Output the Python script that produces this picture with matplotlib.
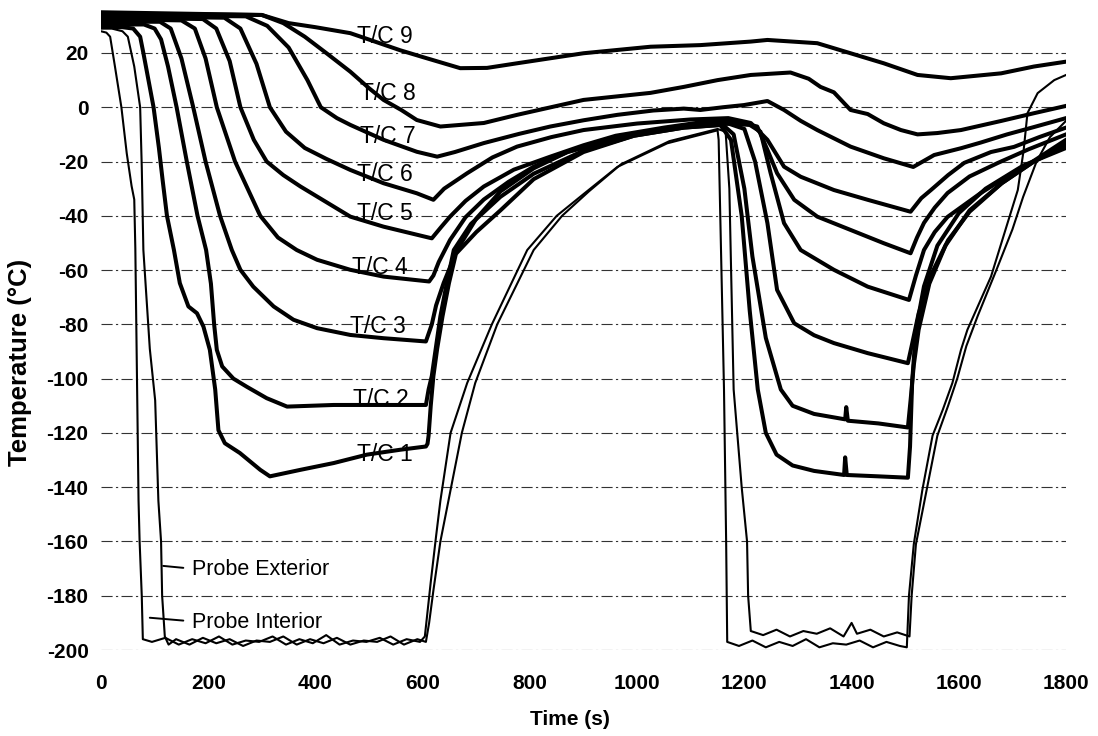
import matplotlib
matplotlib.use("Agg")
import matplotlib.pyplot as plt

plt.rcParams['font.family'] = ['Liberation Sans', 'DejaVu Sans']

# ---- thermocouple traces: time (s) / temperature (degC) ----
tc1_time = [0, 40, 60, 73, 79, 85, 98, 108, 115, 123, 136, 147, 163, 179, 191, 203, 213, 219, 231, 259, 297, 315, 372, 434, 496, 558, 606,
            609, 611, 615, 620, 627, 637, 649, 662, 700, 745, 807, 900, 994, 1087, 1155, 1175, 1195, 1210, 1225, 1240, 1260, 1290, 1330,
            1386, 1388, 1391, 1450, 1505, 1509, 1513, 1520, 1535, 1560, 1600, 1650, 1720, 1800]
tc1_temp = [29.5, 29.5, 29, 26, 20, 13.7, 0, -15, -27, -40, -52.6, -64.8, -73.4, -75.9, -80.8, -89.4, -104, -119, -123.8, -127.4, -133.6, -136, -133.6, -131.1, -128, -126.2, -125,
            -124, -121, -110, -99, -89, -77, -64.8, -54, -46, -38, -26.5, -16.5, -10.5, -7.5, -6.5, -12, -40, -75, -104, -120, -128, -132, -134,
            -135.5, -129, -135.5, -136, -136.5, -125, -101, -82, -66, -51, -39, -30, -21.5, -15]

tc2_time = [0, 80, 100, 112, 125, 141, 160, 180, 196, 205, 211, 216, 226, 247, 272, 309, 347, 434, 527, 606,
            611, 617, 624, 633, 645, 658, 690, 745, 807, 900, 994, 1087, 1160, 1180, 1200, 1215, 1240, 1268, 1290, 1330,
            1388, 1390, 1393, 1450, 1505, 1510, 1516, 1525, 1545, 1575, 1620, 1680, 1740, 1800]
tc2_temp = [30.5, 30.5, 29, 25, 15, 0, -20, -40, -52.6, -65, -80, -89.4, -95.5, -100, -103, -107.2, -110.3, -109.7, -109.7, -109.7,
            -104, -99, -89.4, -77, -64.8, -52.6, -43, -33, -24.5, -16, -10.5, -7.5, -6.5, -10, -30, -55, -85, -104, -110, -113,
            -115, -110.5, -115.5, -116.5, -118, -108, -95, -82, -65, -51, -38, -28, -20, -14]

tc3_time = [0, 110, 130, 150, 172, 195, 222, 244, 260, 284, 322, 359, 403, 465, 527, 606,
            617, 625, 639, 664, 700, 745, 807, 870, 950, 1050, 1130, 1170, 1200, 1220, 1243, 1261, 1293, 1330, 1367, 1430, 1505,
            1512, 1525, 1550, 1580, 1620, 1680, 1740, 1800]
tc3_temp = [31.5, 31.5, 29, 18, 0, -20, -40, -52.6, -59.9, -66.1, -73.4, -78.3, -81.4, -83.9, -85.1, -86.3,
            -80, -73, -64.8, -52.6, -41, -31, -22.5, -16.5, -11.5, -8, -6.5, -6, -8, -20, -42.7, -67.3, -79.6, -84, -86.9, -90.6, -94.3,
            -88, -76, -61, -49, -38.5, -28, -20, -13]

tc4_time = [0, 150, 175, 195, 216, 250, 297, 330, 365, 403, 465, 527, 612,
            620, 630, 651, 680, 714, 760, 807, 870, 932, 1000, 1080, 1160, 1210, 1230, 1249, 1274, 1305, 1367, 1430, 1507,
            1520, 1535, 1555, 1579, 1641, 1690, 1734, 1800]
tc4_temp = [32.5, 32, 29, 18, 0, -20, -40, -48, -52.6, -56.2, -59.9, -62.4, -64.2,
            -62, -57, -48.9, -40.5, -34, -27.5, -21.9, -16.5, -13.2, -9.8, -7.2, -6, -6.5, -9, -24.3, -42.7, -52.6, -59.9, -66.1, -71,
            -62, -52.6, -46, -40.4, -31.6, -25.5, -20.5, -12]

tc5_time = [0, 190, 215, 240, 260, 285, 309, 340, 372, 434, 465, 527, 617,
            635, 651, 680, 714, 770, 838, 900, 960, 1050, 1120, 1180, 1224, 1243, 1261, 1293, 1336, 1398, 1460, 1510,
            1522, 1535, 1555, 1579, 1620, 1673, 1730, 1800]
tc5_temp = [33, 32.5, 29, 17, 0, -12, -20, -25, -29.2, -36.6, -40.3, -44, -48.3,
            -44, -40.3, -34.5, -29.2, -23, -18.2, -14, -10.5, -7.5, -5.5, -5, -7.1, -15.7, -24.3, -34.1, -40.3, -45.2, -50.1, -53.8,
            -48, -42.6, -37, -31.6, -25.5, -20.5, -15.5, -10]

tc6_time = [0, 230, 260, 290, 315, 345, 380, 420, 465, 527, 589, 620,
            640, 683, 730, 776, 840, 900, 1000, 1100, 1170, 1212, 1243, 1274, 1305, 1367, 1430, 1510,
            1530, 1548, 1580, 1610, 1660, 1703, 1750, 1800]
tc6_temp = [33.5, 33, 29, 16, 0, -9, -15, -19, -23.1, -28, -31.7, -34.1,
            -30, -24.3, -18.5, -14.5, -11, -8.4, -6, -4.5, -4, -5.8, -12, -21.9, -25.6, -30.5, -34.1, -38.5,
            -33.5, -30.5, -25, -20.5, -16.5, -14.6, -11, -7.5]

tc7_time = [0, 270, 310, 350, 385, 410, 440, 465, 527, 589, 627,
            660, 714, 780, 838, 900, 963, 1030, 1087, 1118, 1160, 1199, 1243, 1274, 1305, 1336, 1398, 1460, 1515,
            1554, 1604, 1641, 1690, 1740, 1800]
tc7_temp = [34, 33.5, 30, 22, 10, 0, -4, -6.5, -12, -16.4, -18.2,
            -16.5, -13.2, -9.8, -7.1, -4.8, -2.8, -1.2, -0.5, -1, 0, 0.8, 2.3, -1, -5, -8.4, -14.5, -18.8, -22,
            -17.6, -15.1, -13, -10, -7.3, -4]

tc8_time = [0, 300, 340, 380, 420, 465, 500, 527, 560, 589, 633, 714, 776, 900, 1025, 1087, 1150, 1212, 1286, 1320,
            1342, 1367, 1398, 1430, 1460, 1492, 1523, 1560, 1604, 1680, 1740, 1800]
tc8_temp = [34.5, 34, 31, 26, 20, 13.1, 7, 2.7, -1, -4.7, -7.1, -5.8, -2.8, 2.7, 5.3, 7.5, 10, 11.9, 12.8, 10.5,
            7.5, 5.5, -1, -2.5, -5.9, -8.4, -10, -9.5, -8.4, -5, -2.2, 0.5]

tc9_time = [0, 300, 350, 400, 465, 558, 600, 670, 720, 776, 900, 1025, 1118, 1212, 1243, 1336, 1398, 1460, 1523, 1585,
            1679, 1740, 1800]
tc9_temp = [35, 34, 31, 29.5, 27.3, 21, 18.5, 14.4, 14.5, 16.2, 19.9, 22.3, 22.9, 24.2, 24.8, 23.6, 19.9, 16.2, 11.9, 10.7,
            12.5, 15, 16.8]

# ---- probe traces ----
probe_ext_time = [0, 10, 17, 26, 38, 48, 57, 62, 64, 70, 72, 76, 78,
                  95, 120, 145, 170, 195, 220, 245, 270, 295, 320, 345, 370, 395, 420, 445, 470, 495, 520, 545, 570, 595,
                  604, 615, 625, 633, 652, 683, 729, 795, 850, 900, 963, 1056, 1150, 1152, 1162, 1166, 1168,
                  1190, 1215, 1240, 1265, 1290, 1315, 1340, 1365, 1390, 1415, 1440, 1465, 1490, 1503,
                  1507, 1516, 1532, 1551, 1570, 1588, 1604, 1616, 1660, 1691, 1710, 1721, 1728, 1747, 1778, 1800]
probe_ext_temp = [28, 27.5, 26, 15, 0, -17, -29, -34, -52, -145, -160, -180, -196,
                  -197, -195.5, -198, -196, -197.5, -195, -198, -196.5, -197, -195, -198, -196, -197.5, -194.5, -198, -196.5, -197, -195.5, -198, -196, -197,
                  -195, -175, -158, -145, -120, -101.6, -80, -52.6, -40, -32, -22, -13.3, -8.5, -12, -104, -160, -197,
                  -198.5, -196.5, -199, -197, -198.5, -196, -199, -197.5, -198, -196.5, -199, -197, -198.5, -199,
                  -180, -161, -141, -121, -111.5, -101.6, -89.4, -82, -62.4, -42.6, -30.5, -15.7, -2.2, 5.2, 10, 11.9]

probe_int_time = [0, 20, 40, 50, 62, 73, 76, 79, 91, 101, 107, 112, 114, 119, 126,
                  140, 165, 190, 215, 240, 265, 290, 315, 340, 365, 390, 415, 440, 465, 490, 515, 540, 565, 590, 606,
                  612, 620, 633, 648, 673, 698, 739, 807, 860, 910, 970, 1060, 1150, 1165, 1172, 1180, 1195, 1205, 1207, 1212,
                  1235, 1260, 1285, 1310, 1335, 1360, 1385, 1400, 1410, 1435, 1460, 1485, 1508,
                  1512, 1520, 1540, 1560, 1580, 1597, 1614, 1635, 1670, 1700, 1720, 1745, 1770, 1800]
probe_int_temp = [29, 29, 28, 26, 15, 0, -22, -52.6, -89, -108, -145, -160, -180, -195, -198,
                  -196, -198, -195.5, -197.5, -196, -198.5, -196.5, -197, -195, -198, -196, -197.5, -195.5, -198, -196.5, -197, -195, -198, -196, -197,
                  -190, -178, -160, -145, -120, -101.6, -80, -52.6, -40, -31, -21, -12.5, -8, -9, -30, -104, -140, -160, -180, -193,
                  -194.5, -192.5, -195, -193, -194, -192, -195, -190, -194, -192.5, -195, -193.5, -195,
                  -180, -161, -141, -121, -110, -100, -88, -77, -60, -45, -33, -20, -11, -5]

tc_series = [
    (tc1_time, tc1_temp), (tc2_time, tc2_temp), (tc3_time, tc3_temp),
    (tc4_time, tc4_temp), (tc5_time, tc5_temp), (tc6_time, tc6_temp),
    (tc7_time, tc7_temp), (tc8_time, tc8_temp), (tc9_time, tc9_temp),
]

# label text and anchor (time, temperature) for each thermocouple
tc_labels = ['T/C 1', 'T/C 2', 'T/C 3', 'T/C 4', 'T/C 5', 'T/C 6', 'T/C 7', 'T/C 8', 'T/C 9']
tc_label_time = [478, 470, 465, 468, 477, 477, 483, 483, 477]
tc_label_temp = [-128, -107.8, -80.8, -59, -39.3, -24.9, -10.6, 4.9, 25.9]

x_ticks = list(range(0, 1801, 200))
y_ticks = list(range(-200, 21, 20))

fig = plt.figure(figsize=(10.98, 7.36), dpi=100)
ax = fig.add_axes([0.092, 0.1168, 0.8789, 0.8776])

for t, v in tc_series:
    ax.plot(t, v, color='black', lw=2.9, solid_joinstyle='round', zorder=3)
ax.plot(probe_ext_time, probe_ext_temp, color='black', lw=1.5, zorder=3)
ax.plot(probe_int_time, probe_int_temp, color='black', lw=1.5, zorder=3)

for lab, lt, lv in zip(tc_labels, tc_label_time, tc_label_temp):
    ax.text(lt, lv, lab, fontsize=16.5, ha='left', va='center', color='black', zorder=2)

ax.annotate('Probe Exterior', xy=(116, -169), xytext=(169, -170.4), fontsize=15.5, va='center', ha='left',
            arrowprops=dict(arrowstyle='-', lw=1.4, color='black', shrinkA=4, shrinkB=0, relpos=(0, 0.55)))
ax.annotate('Probe Interior', xy=(91, -188.1), xytext=(169, -189.8), fontsize=15.5, va='center', ha='left',
            arrowprops=dict(arrowstyle='-', lw=1.4, color='black', shrinkA=4, shrinkB=0, relpos=(0, 0.55)))

ax.set_xlim(0, 1800)
ax.set_ylim(-200, 38)
ax.set_xticks(x_ticks)
ax.set_yticks(y_ticks)
ax.set_xticklabels([str(v) for v in x_ticks], fontsize=15, fontweight='bold')
ax.set_yticklabels([str(v) for v in y_ticks], fontsize=15, fontweight='bold')
ax.tick_params(axis='x', length=0, pad=17)
ax.tick_params(axis='y', length=0, pad=9)
ax.yaxis.grid(True, color='#333333', lw=0.8, linestyle=(0, (10, 3, 2, 3)), zorder=1)
ax.set_axisbelow(True)
for s in ax.spines.values():
    s.set_visible(False)

fig.text(0.519, 0.023, 'Time (s)', fontsize=15, fontweight='bold', ha='center', va='center')
fig.text(0.018, 0.507, 'Temperature (\u00b0C)', fontsize=18.5, fontweight='bold', ha='center', va='center', rotation=90)

fig.savefig('out.png', dpi=100)
